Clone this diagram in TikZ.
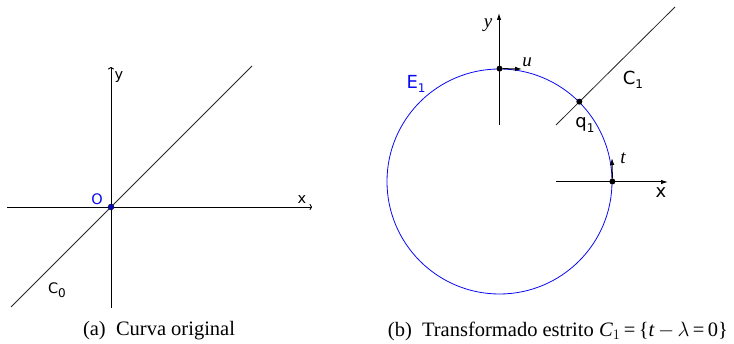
\documentclass[tikz,border=0pt]{standalone}
\usepackage{fontspec}
\setmainfont{Liberation Serif}
\newfontfamily\geofont{DejaVu Sans}
\usepackage{tikz}
\usetikzlibrary{arrows.meta, positioning, calc}
\definecolor{curveblue}{RGB}{10, 10, 240}
\newcommand{\geosub}[1]{\raisebox{-4.5pt}{\fontsize{12}{12}\selectfont #1}}
\tikzset{
    geolabel/.style={inner sep=0pt, font=\fontsize{14.5}{15}\selectfont\geofont},
    biglabel/.style={inner sep=0pt, font=\fontsize{18}{19}\selectfont\geofont},
    mathlabel/.style={inner sep=0pt, font=\fontsize{19}{20}\selectfont\itshape},
    caption/.style={inner sep=0pt, font=\fontsize{20.5}{22}\selectfont}
}

\begin{document}
\begin{tikzpicture}[
    x=1pt, y=-1pt,
    axis/.style={draw, black, line width=0.9pt, -{To[length=2.5pt, width=6pt]}},
    frame/.style={draw, black, line width=1pt, -{Latex[length=7pt, width=4.5pt]}},
    curve/.style={draw, black!85, line width=0.8pt},
    dot/.style={circle, fill=black, inner sep=0pt, minimum size=6pt},
    bluedot/.style={circle, fill=curveblue!80!black, draw=black, line width=0.3pt, inner sep=0pt, minimum size=6pt}
]
    \useasboundingbox (0,0) rectangle (734,344);

    % Curva original
    \coordinate (xa0) at (7,207);
    \coordinate (xa1) at (312,207);
    \coordinate (ya0) at (111,308);
    \coordinate (ya1) at (111,67);
    \coordinate (c0a) at (11,307);
    \coordinate (c0b) at (252,66);
    \draw[axis] (xa0) -- (xa1);
    \draw[axis] (ya0) -- (ya1);
    \draw[curve] (c0a) -- (c0b);
    \node[bluedot] (O) at (111,207) {};
    \node[geolabel, text=curveblue] (Olabel) at (97,199) {O};
    \node[geolabel] (xlab) at (302,200) {x};
    \node[geolabel] (ylab) at (119,77) {y};
    \node[geolabel] (c0lab) at (57,290) {C\geosub{0}};
    \node[caption] (capa) at (159,331) {(a)\ \ Curva original};

    % Transformado estrito
    \node[circle, draw=curveblue, line width=0.8pt, minimum size=225pt, inner sep=0pt] (E1) at (499.5,181.5) {};
    \coordinate (yb0) at (499,125);
    \coordinate (yb1) at (499,13);
    \coordinate (xb0) at (556,182);
    \coordinate (xb1) at (668,182);
    \coordinate (c1a) at (556,125);
    \coordinate (c1b) at (675,7);
    \draw[frame] (yb0) -- (yb1);
    \draw[frame] (xb0) -- (xb1);
    \draw[curve] (c1a) -- (c1b);
    \node[dot] (top) at (E1.north) {};
    \node[dot] (q1) at (E1.north east) {};
    \node[dot] (right) at (E1.east) {};
    \coordinate (uend) at (522,69);
    \coordinate (tend) at (612,158);
    \draw[frame] (top) -- (uend);
    \draw[frame] (right) -- (tend);
    \node[mathlabel] (ylabb) at (488,25) {y};
    \node[mathlabel] (ulab) at (527,62) {u};
    \node[mathlabel] (tlab) at (623,158) {t};
    \node[biglabel] (xlabb) at (661,193) {x};
    \node[biglabel, text=curveblue] (e1lab) at (416,84) {E\geosub{1}};
    \node[biglabel] (c1lab) at (633,80) {C\geosub{1}};
    \node[biglabel] (q1lab) at (585,125) {q\geosub{1}};
    \node[caption] (capb) at (558,331) {(b)\ \ Transformado estrito \textit{C}$_1$\,=\,\{\textit{t}\,$-$\,$\lambda$\,=\,0\}};
\end{tikzpicture}
\end{document}
